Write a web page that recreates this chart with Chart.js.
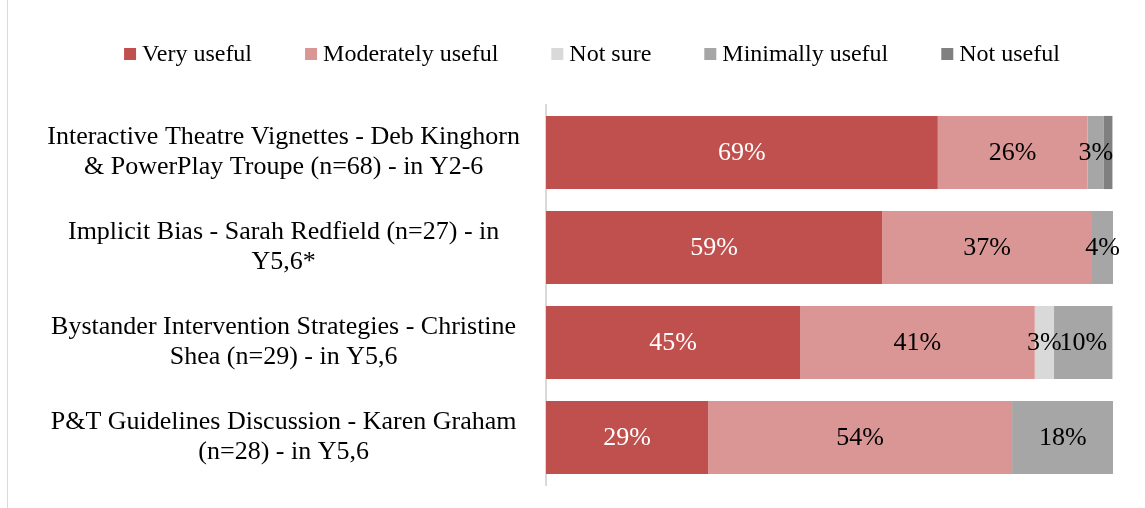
<!DOCTYPE html>
<html>
<head>
<meta charset="utf-8">
<script src="https://cdn.jsdelivr.net/npm/chart.js@4.4.0/dist/chart.umd.min.js"></script>
<style>
  body { margin: 0; background: #fff; }
  #wrap { position: absolute; left: 7px; top: 0; width: 1138px; height: 508px; border-left: 1px solid #d9d9d9; }
</style>
</head>
<body>
<div id="wrap"><canvas id="ratingChart"></canvas></div>
<script>
// Sessions (y-axis categories), each split into lines as in the picture
const sessions = [
    ['Interactive Theatre Vignettes - Deb Kinghorn', '& PowerPlay Troupe (n=68) - in Y2-6'],
    ['Implicit Bias - Sarah Redfield (n=27) - in', 'Y5,6*'],
    ['Bystander Intervention Strategies - Christine', 'Shea (n=29) - in Y5,6'],
    ['P&T Guidelines Discussion - Karen Graham', '(n=28) - in Y5,6']
];

// Share of responses per rating (percent)
const veryUseful = [69.1, 59.3, 44.8, 28.6];
const moderatelyUseful = [26.4, 37.0, 41.4, 53.6];
const notSure = [0, 0, 3.4, 0];
const minimallyUseful = [2.9, 3.7, 10.3, 17.9];
const notUseful = [1.5, 0, 0, 0];

const serif = '"Liberation Serif", "Times New Roman", serif';

// Draws the rounded percentage in the middle of every segment
const segmentLabels = {
    id: 'segmentLabels',
    afterDatasetsDraw(chart) {
        const ctx = chart.ctx;
        ctx.save();
        ctx.font = '26px ' + serif;
        ctx.textAlign = 'center';
        ctx.textBaseline = 'middle';
        chart.data.datasets.forEach((ds, i) => {
            const meta = chart.getDatasetMeta(i);
            meta.data.forEach((bar, j) => {
                const v = ds.data[j];
                if (v < 2) return;
                const x = (bar.x + bar.base) / 2;
                ctx.fillStyle = i === 0 ? '#ffffff' : '#000000';
                ctx.fillText(Math.round(v) + '%', x, bar.y + 1);
            });
        });
        ctx.restore();
    }
};

// Excel-style legend row: small square, short gap, wide gap between items
const topLegend = {
    id: 'topLegend',
    afterDraw(chart) {
        const ctx = chart.ctx;
        ctx.save();
        ctx.font = '24px ' + serif;
        ctx.textBaseline = 'middle';
        const items = chart.data.datasets.map(ds => ({
            text: ds.label,
            color: ds.backgroundColor,
            w: ctx.measureText(ds.label).width
        }));
        const box = 12, gap = 6, spacing = 53;
        let total = 0;
        items.forEach((it, i) => {
            total += box + gap + it.w + (i < items.length - 1 ? spacing : 0);
        });
        let x = 584 - total / 2;
        const y = 54;
        items.forEach(it => {
            ctx.fillStyle = it.color;
            ctx.fillRect(x, y - box / 2, box, box);
            ctx.fillStyle = '#000';
            ctx.fillText(it.text, x + box + gap, y + 1);
            x += box + gap + it.w + spacing;
        });
        ctx.restore();
    }
};

const ctx = document.getElementById('ratingChart').getContext('2d');
const ratingChart = new Chart(ctx, {
    type: 'bar',
    data: {
        labels: sessions,
        datasets: [
            { label: 'Very useful', data: veryUseful, backgroundColor: '#c0504d' },
            { label: 'Moderately useful', data: moderatelyUseful, backgroundColor: '#da9694' },
            { label: 'Not sure', data: notSure, backgroundColor: '#d9d9d9' },
            { label: 'Minimally useful', data: minimallyUseful, backgroundColor: '#a6a6a6' },
            { label: 'Not useful', data: notUseful, backgroundColor: '#808080' }
        ]
    },
    options: {
        indexAxis: 'y',
        responsive: true,
        maintainAspectRatio: false,
        animation: false,
        datasets: {
            bar: { categoryPercentage: 1, barPercentage: 0.77 }
        },
        layout: { padding: { top: 105, right: 33, bottom: 23, left: 0 } },
        scales: {
            x: {
                stacked: true,
                min: 0,
                max: 100,
                display: false
            },
            y: {
                stacked: true,
                grid: { display: false, drawTicks: false },
                border: { display: true, color: '#d9d9d9', width: 2 },
                afterFit(scale) {
                    scale.width = 538;
                    scale.paddingTop = 0;
                    scale.paddingBottom = 0;
                },
                ticks: {
                    color: '#000',
                    crossAlign: 'center',
                    padding: 26,
                    font: { family: serif, size: 26, lineHeight: 1.15 }
                }
            }
        },
        plugins: {
            legend: { display: false },
            tooltip: { enabled: false }
        }
    },
    plugins: [segmentLabels, topLegend]
});
</script>
</body>
</html>
